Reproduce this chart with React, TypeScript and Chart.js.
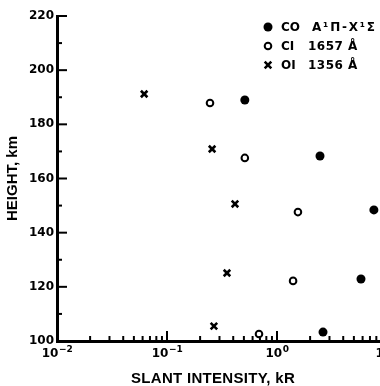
import React, { useEffect, useRef } from 'react';
import { Chart, registerables } from 'chart.js';

Chart.register(...registerables);

// ---- data ----
const coIntensity = [0.51, 2.46, 7.6, 5.8, 2.62];
const coHeight = [189, 168.3, 148.4, 122.9, 103.3];

const ciIntensity = [0.246, 0.51, 1.55, 1.4, 0.686];
const ciHeight = [187.9, 167.6, 147.6, 122.2, 102.6];

const oiIntensity = [0.062, 0.257, 0.415, 0.351, 0.267];
const oiHeight = [191.2, 170.9, 150.6, 125.1, 105.5];

const yTickValues = [100, 110, 120, 130, 140, 150, 160, 170, 180, 190, 200, 210, 220];
const xDecades = [0.01, 0.1, 1, 10];
const xDecadeExponents = ['-2', '-1', '0', '1'];
const xMinorMultipliers = [2, 3, 4, 5, 6, 7, 8, 9];

const legendMarkers = ['filled', 'open', 'cross'];
const legendNames = ['CO', 'CI', 'OI'];
const legendDetails = ['A\u00B9\u03A0-X\u00B9\u03A3', '1657 \u00C5', '1356 \u00C5'];

const yTitle = 'HEIGHT, km';
const xTitle = 'SLANT INTENSITY, kR';

const LABEL_FONT = 'bold 12px "DejaVu Sans"';
const SUP_FONT = 'bold 9px "DejaVu Sans"';

function drawMarker(ctx: CanvasRenderingContext2D, kind: string, x: number, y: number) {
  ctx.save();
  ctx.strokeStyle = '#000';
  ctx.fillStyle = '#000';
  if (kind === 'filled') {
    ctx.beginPath();
    ctx.arc(x, y, 4.5, 0, Math.PI * 2);
    ctx.fill();
  } else if (kind === 'open') {
    ctx.lineWidth = 2;
    ctx.fillStyle = '#fff';
    ctx.beginPath();
    ctx.arc(x, y, 3.3, 0, Math.PI * 2);
    ctx.fill();
    ctx.stroke();
  } else {
    ctx.lineWidth = 2.6;
    const r = 3.3;
    ctx.beginPath();
    ctx.moveTo(x - r, y - r);
    ctx.lineTo(x + r, y + r);
    ctx.moveTo(x + r, y - r);
    ctx.lineTo(x - r, y + r);
    ctx.stroke();
  }
  ctx.restore();
}

const paperPlugin = {
  id: 'paperAxes',
  afterDraw(chart: any) {
    const { ctx, chartArea, scales } = chart;
    const xs = scales.x;
    const ys = scales.y;
    ctx.save();
    ctx.strokeStyle = '#000';
    ctx.fillStyle = '#000';
    ctx.lineWidth = 2;

    // inward y ticks
    for (const v of yTickValues) {
      const py = ys.getPixelForValue(v);
      const len = v % 20 === 0 ? 10 : 5;
      ctx.beginPath();
      ctx.moveTo(chartArea.left, py);
      ctx.lineTo(chartArea.left + len, py);
      ctx.stroke();
    }

    // inward x ticks
    for (let i = 0; i < xDecades.length; i++) {
      const d = xDecades[i];
      const px = xs.getPixelForValue(d);
      if (i > 0) {
        ctx.beginPath();
        ctx.moveTo(px, chartArea.bottom);
        ctx.lineTo(px, chartArea.bottom - 10);
        ctx.stroke();
      }
      if (i < xDecades.length - 1) {
        for (const m of xMinorMultipliers) {
          const mx = xs.getPixelForValue(d * m);
          ctx.beginPath();
          ctx.moveTo(mx, chartArea.bottom);
          ctx.lineTo(mx, chartArea.bottom - 5);
          ctx.stroke();
        }
      }
    }

    // x tick labels with superscripts
    ctx.textBaseline = 'alphabetic';
    ctx.textAlign = 'left';
    for (let i = 0; i < xDecades.length; i++) {
      const px = xs.getPixelForValue(xDecades[i]);
      ctx.font = LABEL_FONT;
      const wBase = ctx.measureText('10').width;
      ctx.font = SUP_FONT;
      const sup = xDecadeExponents[i].replace('-', '\u2212');
      const wSup = ctx.measureText(sup).width;
      const start = px - (wBase + wSup) / 2;
      ctx.font = LABEL_FONT;
      ctx.fillText('10', start, 357);
      ctx.font = SUP_FONT;
      ctx.fillText(sup, start + wBase + 0.5, 352);
    }

    // x axis title
    ctx.font = 'bold 15px "Liberation Sans"';
    ctx.textAlign = 'center';
    (ctx as any).letterSpacing = '0.3px';
    ctx.fillText(xTitle, 213, 383);
    (ctx as any).letterSpacing = '0px';

    // legend
    ctx.font = LABEL_FONT;
    ctx.textAlign = 'left';
    ctx.textBaseline = 'middle';
    const rows = [27, 46, 65];
    for (let i = 0; i < legendNames.length; i++) {
      drawMarker(ctx, legendMarkers[i], 268, rows[i]);
      ctx.fillText(legendNames[i], 281, rows[i] + 1);
      (ctx as any).letterSpacing = i === 0 ? '1.8px' : '0.5px';
      ctx.fillText(legendDetails[i], i === 0 ? 312 : 308, rows[i] + 1);
      (ctx as any).letterSpacing = '0px';
    }
    ctx.restore();
  },
};

export default function App() {
  const ref = useRef<HTMLCanvasElement | null>(null);

  useEffect(() => {
    if (!ref.current) return;
    const toPoints = (xs: number[], ys: number[]) => xs.map((x, i) => ({ x, y: ys[i] }));
    const chart = new Chart(ref.current, {
      type: 'scatter',
      data: {
        datasets: [
          {
            label: 'CO',
            data: toPoints(coIntensity, coHeight),
            pointStyle: 'circle',
            pointRadius: 4.5,
            backgroundColor: '#000',
            borderColor: '#000',
            borderWidth: 0,
          },
          {
            label: 'CI 1657',
            data: toPoints(ciIntensity, ciHeight),
            pointStyle: 'circle',
            pointRadius: 3.3,
            backgroundColor: '#fff',
            borderColor: '#000',
            borderWidth: 2,
          },
          {
            label: 'OI 1356',
            data: toPoints(oiIntensity, oiHeight),
            pointStyle: 'crossRot',
            pointRadius: 4.6,
            backgroundColor: '#000',
            borderColor: '#000',
            borderWidth: 2.6,
          },
        ],
      },
      options: {
        responsive: false,
        animation: false,
        events: [],
        layout: { padding: { top: 16, right: 8, left: 0, bottom: 0 } },
        plugins: {
          legend: { display: false },
          tooltip: { enabled: false },
        },
        scales: {
          x: {
            type: 'logarithmic',
            position: 'bottom',
            min: 0.01,
            max: 10,
            ticks: { display: false },
            grid: { display: false, drawTicks: false },
            border: { display: true, color: '#000', width: 3 },
            afterFit: (s: any) => {
              s.height = 45;
            },
          },
          y: {
            type: 'linear',
            min: 100,
            max: 220,
            ticks: {
              stepSize: 10,
              autoSkip: false,
              padding: 3,
              color: '#000',
              font: { family: 'DejaVu Sans', weight: 'bold', size: 12 },
              callback: (v: any) => (Number(v) % 20 === 0 ? String(v) : ''),
            },
            grid: { display: false, drawTicks: false },
            border: { display: true, color: '#000', width: 3 },
            title: {
              display: true,
              text: yTitle,
              color: '#000',
              font: { family: 'Liberation Sans', weight: 'bold', size: 15 },
              padding: { top: 4, bottom: 0 },
            },
            afterFit: (s: any) => {
              s.width = 57;
            },
          },
        },
      },
      plugins: [paperPlugin],
    });
    return () => chart.destroy();
  }, []);

  return (
    <div
      style={{
        position: 'absolute',
        left: 0,
        top: 0,
        width: 380,
        height: 386,
        overflow: 'hidden',
        background: '#fff',
      }}
    >
      <canvas ref={ref} width={395} height={386} style={{ display: 'block' }} />
    </div>
  );
}
